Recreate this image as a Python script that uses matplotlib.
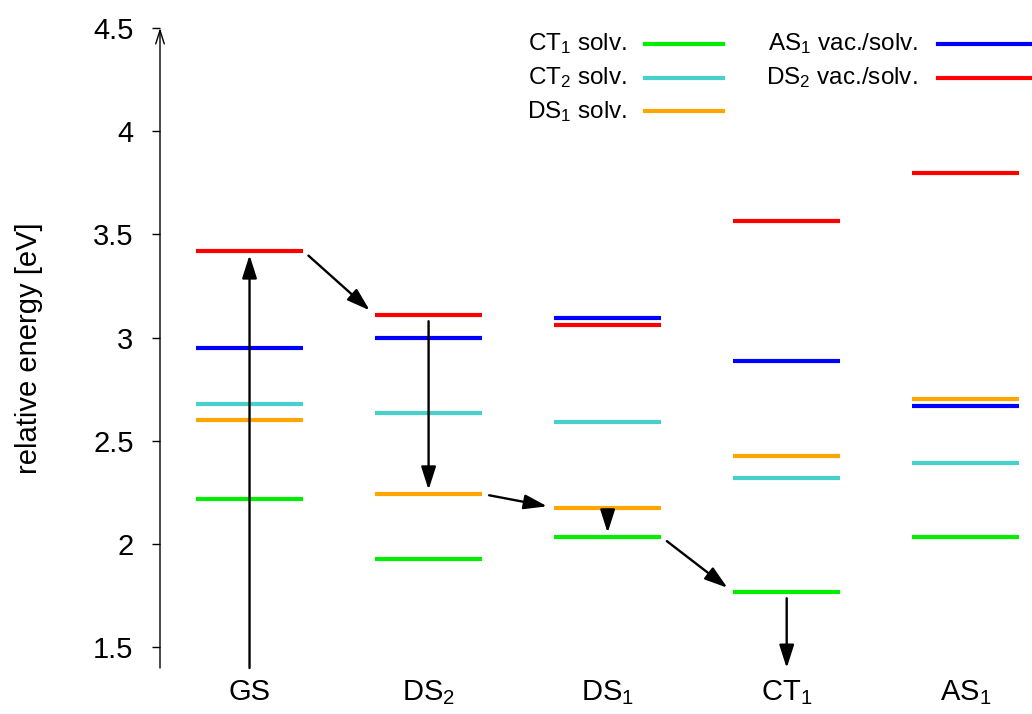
import matplotlib
matplotlib.use("Agg")
import matplotlib.pyplot as plt

plt.rcParams['font.family'] = ['Liberation Sans', 'DejaVu Sans']
plt.rcParams['mathtext.fontset'] = 'custom'
plt.rcParams['mathtext.rm'] = 'Liberation Sans'
plt.rcParams['mathtext.it'] = 'Liberation Sans'

# states along the x axis
states = ['GS', 'DS$_2$', 'DS$_1$', 'CT$_1$', 'AS$_1$']

# energy levels [eV] per state
ct1_solv = [2.22, 1.93, 2.035, 1.768, 2.034]
ct2_solv = [2.68, 2.637, 2.59, 2.32, 2.395]
ds1_solv = [2.60, 2.243, 2.177, 2.425, 2.705]
as1_vac = [2.952, 3.00, 3.096, 2.887, 2.671]
ds2_vac = [3.42, 3.11, 3.062, 3.566, 3.797]

series = [
    ('CT$_1$ solv.', ct1_solv, '#00ee00'),
    ('CT$_2$ solv.', ct2_solv, '#48d1cc'),
    ('DS$_1$ solv.', ds1_solv, '#ffa500'),
    ('AS$_1$ vac./solv.', as1_vac, '#0000ff'),
    ('DS$_2$ vac./solv.', ds2_vac, '#ff0000'),
]

# relaxation path: (state, level) -> (state, level); None = axis bottom
path = [
    ((0, None), (0, ds2_vac)),
    ((0, ds2_vac), (1, ds2_vac)),
    ((1, ds2_vac), (1, ds1_solv)),
    ((1, ds1_solv), (2, ds1_solv)),
    ((2, ds1_solv), (2, ct1_solv)),
    ((2, ct1_solv), (3, ct1_solv)),
    ((3, ct1_solv), (3, None)),
]

ymin, ymax = 1.4, 4.5
half = 0.3

fig = plt.figure(figsize=(10.32, 7.14), dpi=100)
ax = fig.add_axes([160 / 1032, 1 - 668 / 714, 872 / 1032, 640 / 714])
ax.set_xlim(0.5, 5.37)
ax.set_ylim(ymin, ymax)

xs = list(range(1, len(states) + 1))
for name, vals, color in series:
    ax.hlines(vals, [x - half for x in xs], [x + half for x in xs],
              colors=color, lw=3.0, zorder=2)


def point(state, level, side):
    x = xs[state]
    if level is None:
        return (x, ymin)
    return (x + side * half, level[state])


for (s0, l0), (s1, l1) in path:
    if s0 == s1:
        p0 = (xs[s0], ymin if l0 is None else l0[s0])
        p1 = (xs[s1], ymin if l1 is None else l1[s1])
        sa = 0 if l0 is None else 4.5
        sb = 0 if l1 is None else 3.0
    else:
        p0 = point(s0, l0, 1)
        p1 = point(s1, l1, -1)
        sa, sb = 5, 5
    ax.annotate('', xy=p1, xytext=p0,
                arrowprops=dict(arrowstyle='-|>,head_length=1.0,head_width=0.32',
                                mutation_scale=14, lw=1.7, color='black',
                                shrinkA=sa, shrinkB=sb),
                zorder=3, annotation_clip=False)

# axes: only a left spine with an open arrow on top
for sp in ax.spines.values():
    sp.set_visible(False)
ax.annotate('', xy=(0, 1), xytext=(0, 0), xycoords='axes fraction',
            arrowprops=dict(arrowstyle='->,head_length=0.7,head_width=0.22',
                            mutation_scale=14, lw=1.0, color='black',
                            shrinkA=0, shrinkB=0),
            annotation_clip=False)

ax.set_yticks([1.5, 2, 2.5, 3, 3.5, 4, 4.5])
ax.set_yticklabels(['1.5', '2', '2.5', '3', '3.5', '4', '4.5'])
ax.tick_params(axis='y', direction='out', length=6, width=1.0, pad=13, labelsize=21)
ax.set_xticks(xs)
ax.set_xticklabels(states)
ax.tick_params(axis='x', length=0, pad=7, labelsize=21)

ax.set_ylabel('relative energy [eV]', fontsize=21)
ax.yaxis.set_label_coords(-0.134, 0.5)

# legend in two columns, text right-aligned left of the line sample
cols = [(0.5356, 0.5562, 0.6456), (0.8693, 0.8922, 1.0)]
rows = [0.975, 0.922, 0.870]
for i, (name, vals, color) in enumerate(series):
    c = cols[0] if i < 3 else cols[1]
    r = rows[i % 3]
    ax.text(c[0], r, name, transform=ax.transAxes, ha='right', va='center',
            fontsize=17.5)
    ax.plot([c[1], c[2]], [r, r], color=color, lw=3.0,
            transform=ax.transAxes, clip_on=False)

fig.savefig('out.png', dpi=100)
